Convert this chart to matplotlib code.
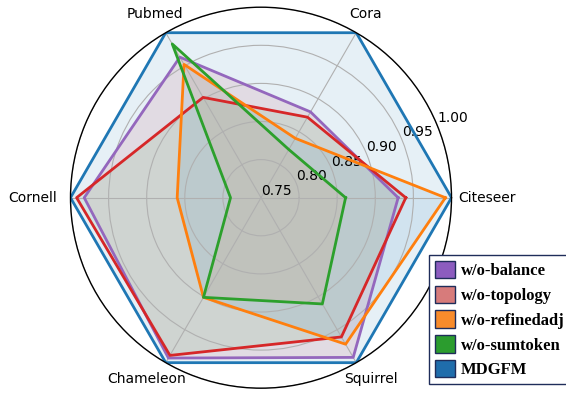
import numpy as np
import matplotlib.pyplot as plt
from matplotlib.patches import Patch

categories = ['Citeseer', 'Cora', 'Pubmed', 'Cornell', 'Chameleon', 'Squirrel']

wo_balance = [0.930, 0.880, 0.963, 0.982, 0.993, 0.992]
wo_topology = [0.940, 0.872, 0.902, 0.992, 0.989, 0.961]
wo_refinedadj = [0.992, 0.840, 0.952, 0.860, 0.901, 0.972]
wo_sumtoken = [0.861, 0.823, 0.983, 0.790, 0.901, 0.911]
mdgfm = [1.0, 1.0, 1.0, 1.0, 1.0, 1.0]

series_names = ['w/o-balance', 'w/o-topology', 'w/o-refinedadj', 'w/o-sumtoken', 'MDGFM']
series = [wo_balance, wo_topology, wo_refinedadj, wo_sumtoken, mdgfm]
line_colors = ['#9467bd', '#d62728', '#ff7f0e', '#2ca02c', '#1f77b4']
fill_colors = ['#d62728', '#2ca02c', '#1f77b4', '#ff7f0e', '#1f77b4']
fill_alpha = [0.1, 0.1, 0.1, 0.1, 0.11]
legend_colors = ['#8c5cbf', '#d77b7b', '#f88b2b', '#2b9c2e', '#1f6dab']

r_ticks = [0.75, 0.80, 0.85, 0.90, 0.95, 1.00]

# label offsets (points) from each outer vertex, and alignment
label_offsets = [(5, 0), (7, 13.5), (-7.6, 13.8), (-10, 0), (-13.9, -11.6), (10.6, -11.6)]
label_ha = ['left', 'center', 'center', 'right', 'center', 'center']

angles = np.linspace(0, 2 * np.pi, len(categories), endpoint=False)
closed = np.concatenate([angles, angles[:1]])

fig = plt.figure(figsize=(5.66, 3.94), dpi=100)
ax = fig.add_axes([70.5 / 566, 5.8 / 394, 381 / 566, 381 / 394], projection='polar')

for vals, lc, fc, a in zip(series, line_colors, fill_colors, fill_alpha):
    v = np.concatenate([vals, vals[:1]])
    ax.plot(closed, v, color=lc, linewidth=2)
    ax.fill(closed, v, color=fc, alpha=a, linewidth=0)

ax.set_ylim(0.75, 1.0)
ax.set_yticks(r_ticks)
ax.set_yticklabels(['%.2f' % t for t in r_ticks], fontsize=10)
ax.set_xticks(angles)
ax.set_xticklabels([])
ax.grid(color='#b0b0b0', linewidth=0.8)
ax.spines['polar'].set_color('black')
ax.spines['polar'].set_linewidth(1.0)

for ang, name, off, ha in zip(angles, categories, label_offsets, label_ha):
    ax.annotate(name, xy=(ang, 1.0), xytext=off, textcoords='offset points',
                ha=ha, va='center', fontsize=10, annotation_clip=False)

handles = [Patch(facecolor=c, edgecolor='#1f2d5a', linewidth=1) for c in legend_colors]
leg = fig.legend(handles, series_names, loc='upper left',
                 bbox_to_anchor=(429 / 566, 1 - 255 / 394), borderaxespad=0,
                 prop={'family': 'Liberation Serif', 'weight': 'bold', 'size': 12},
                 handlelength=1.2, handleheight=1.25, handletextpad=0.35,
                 labelspacing=0.38, borderpad=0.35, fancybox=False, framealpha=1)
leg.get_frame().set_edgecolor('#1f2d5a')
leg.get_frame().set_linewidth(1.0)

fig.savefig('out.png', dpi=100)
